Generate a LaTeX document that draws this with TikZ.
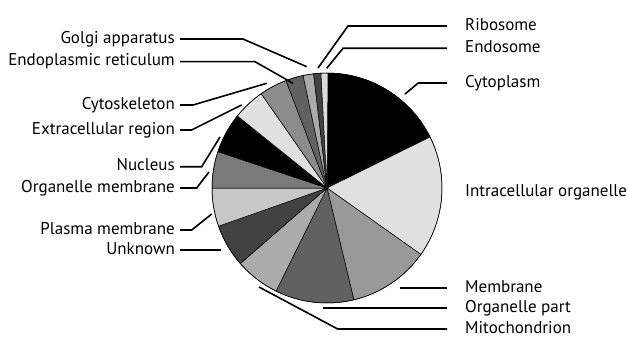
\documentclass[tikz,border=0pt]{standalone}
\usepackage{fontspec}
\setmainfont{PT Sans}
\begin{document}
\begin{tikzpicture}[x=1pt,y=-1pt,
        slice/.style={draw=black,line width=0.5pt},
        leader/.style={line width=1.6pt},
        lefttext/.style={anchor=east,inner sep=0pt,text height=8.5pt,text depth=0pt,font=\fontsize{17}{19}\selectfont},
        righttext/.style={anchor=west,inner sep=0pt,text height=8.5pt,text depth=0pt,font=\fontsize{17}{19}\selectfont}]
    \useasboundingbox (0,0) rectangle (627,337);
    %% pie
    \begin{scope}[shift={(327,188)},yscale=-1]
        \foreach \a/\b/\c in {26.3/89.5/black, -35.3/26.3/black!12, -76.5/-35.3/black!40,
                -116.3/-76.5/black!62, -138.9/-116.3/black!33, -160.6/-138.9/black!74,
                180/199.4/black!22, 161.6/180/black!52, 141.2/161.6/black,
                124.9/141.2/black!12, 110.9/124.9/black!45, 102/110.9/black!62,
                96.7/102/black!33, 93/96.7/black!74, 89.5/93/black!14}
            \filldraw[slice,fill=\c] (0,0) -- (\a:115) arc (\a:\b:115) -- cycle;
        \draw[slice] (0,0) circle (115);
    \end{scope}
    %% points on the pie
    \coordinate (p-golgi) at (306.7,66.7);
    \coordinate (p-er) at (293,83.3);
    \coordinate (p-cytosk) at (266.7,83.3);
    \coordinate (p-extra) at (241.7,105);
    \coordinate (p-nucleus) at (220,137);
    \coordinate (p-orgmem) at (209,172);
    \coordinate (p-plasma) at (211.7,214);
    \coordinate (p-unknown) at (221,250);
    \coordinate (p-ribo) at (318,68);
    \coordinate (p-endo) at (326.7,68.3);
    \coordinate (p-cyto) at (405,94);
    \coordinate (p-membrane) at (400,288);
    \coordinate (p-orgpart) at (323,308);
    \coordinate (p-mito) at (259,287);
    %% left labels
    \node[lefttext] (golgi) at (175,39) {Golgi apparatus};
    \node[lefttext] (er) at (175,61.7) {Endoplasmic reticulum};
    \node[lefttext] (cytosk) at (175,105) {Cytoskeleton};
    \node[lefttext] (extra) at (175,130) {Extracellular region};
    \node[lefttext] (nucleus) at (175,166.7) {Nucleus};
    \node[lefttext] (orgmem) at (175,188) {Organelle membrane};
    \node[lefttext] (plasma) at (175,230) {Plasma membrane};
    \node[lefttext] (unknown) at (175,250) {Unknown};
    \draw[leader,shorten <=5pt] (golgi.east) -- ++(68,0) -- (p-golgi);
    \draw[leader,shorten <=5pt] (er.east) -- ++(80,0) -- (p-er);
    \draw[leader,shorten <=5pt] (cytosk.east) -- ++(18,0) -- (p-cytosk);
    \draw[leader,shorten <=5pt] (extra.east) -- ++(16.7,0) -- (p-extra);
    \draw[leader,shorten <=5pt] (nucleus.east) -- ++(26.7,0) -- (p-nucleus);
    \draw[leader,shorten <=5pt] (orgmem.east) -- ++(21.7,0) -- (p-orgmem);
    \draw[leader,shorten <=5pt] (plasma.east) -- ++(16.7,0) -- (p-plasma);
    \draw[leader,shorten <=5pt] (unknown.east) -- (p-unknown);
    %% right labels
    \node[righttext] (ribo) at (465,26) {Ribosome};
    \node[righttext] (endo) at (465,48.3) {Endosome};
    \node[righttext] (cyto) at (465,83) {Cytoplasm};
    \node[righttext] (intra) at (465,192) {Intracellular organelle};
    \node[righttext] (membrane) at (465,288) {Membrane};
    \node[righttext] (orgpart) at (465,308) {Organelle part};
    \node[righttext] (mito) at (465,329) {Mitochondrion};
    \draw[leader,shorten <=18pt] (ribo.west) -- ++(-117,0) -- (p-ribo);
    \draw[leader,shorten <=18pt] (endo.west) -- ++(-122,0) -- (p-endo);
    \draw[leader,shorten <=18pt] (cyto.west) -- ++(-46.7,0) -- (p-cyto);
    \draw[leader,shorten <=18pt] (membrane.west) -- (p-membrane);
    \draw[leader,shorten <=18pt] (orgpart.west) -- (p-orgpart);
    \draw[leader,shorten <=18pt] (mito.west) -- ++(-127.3,0) -- (p-mito);
\end{tikzpicture}
\end{document}
